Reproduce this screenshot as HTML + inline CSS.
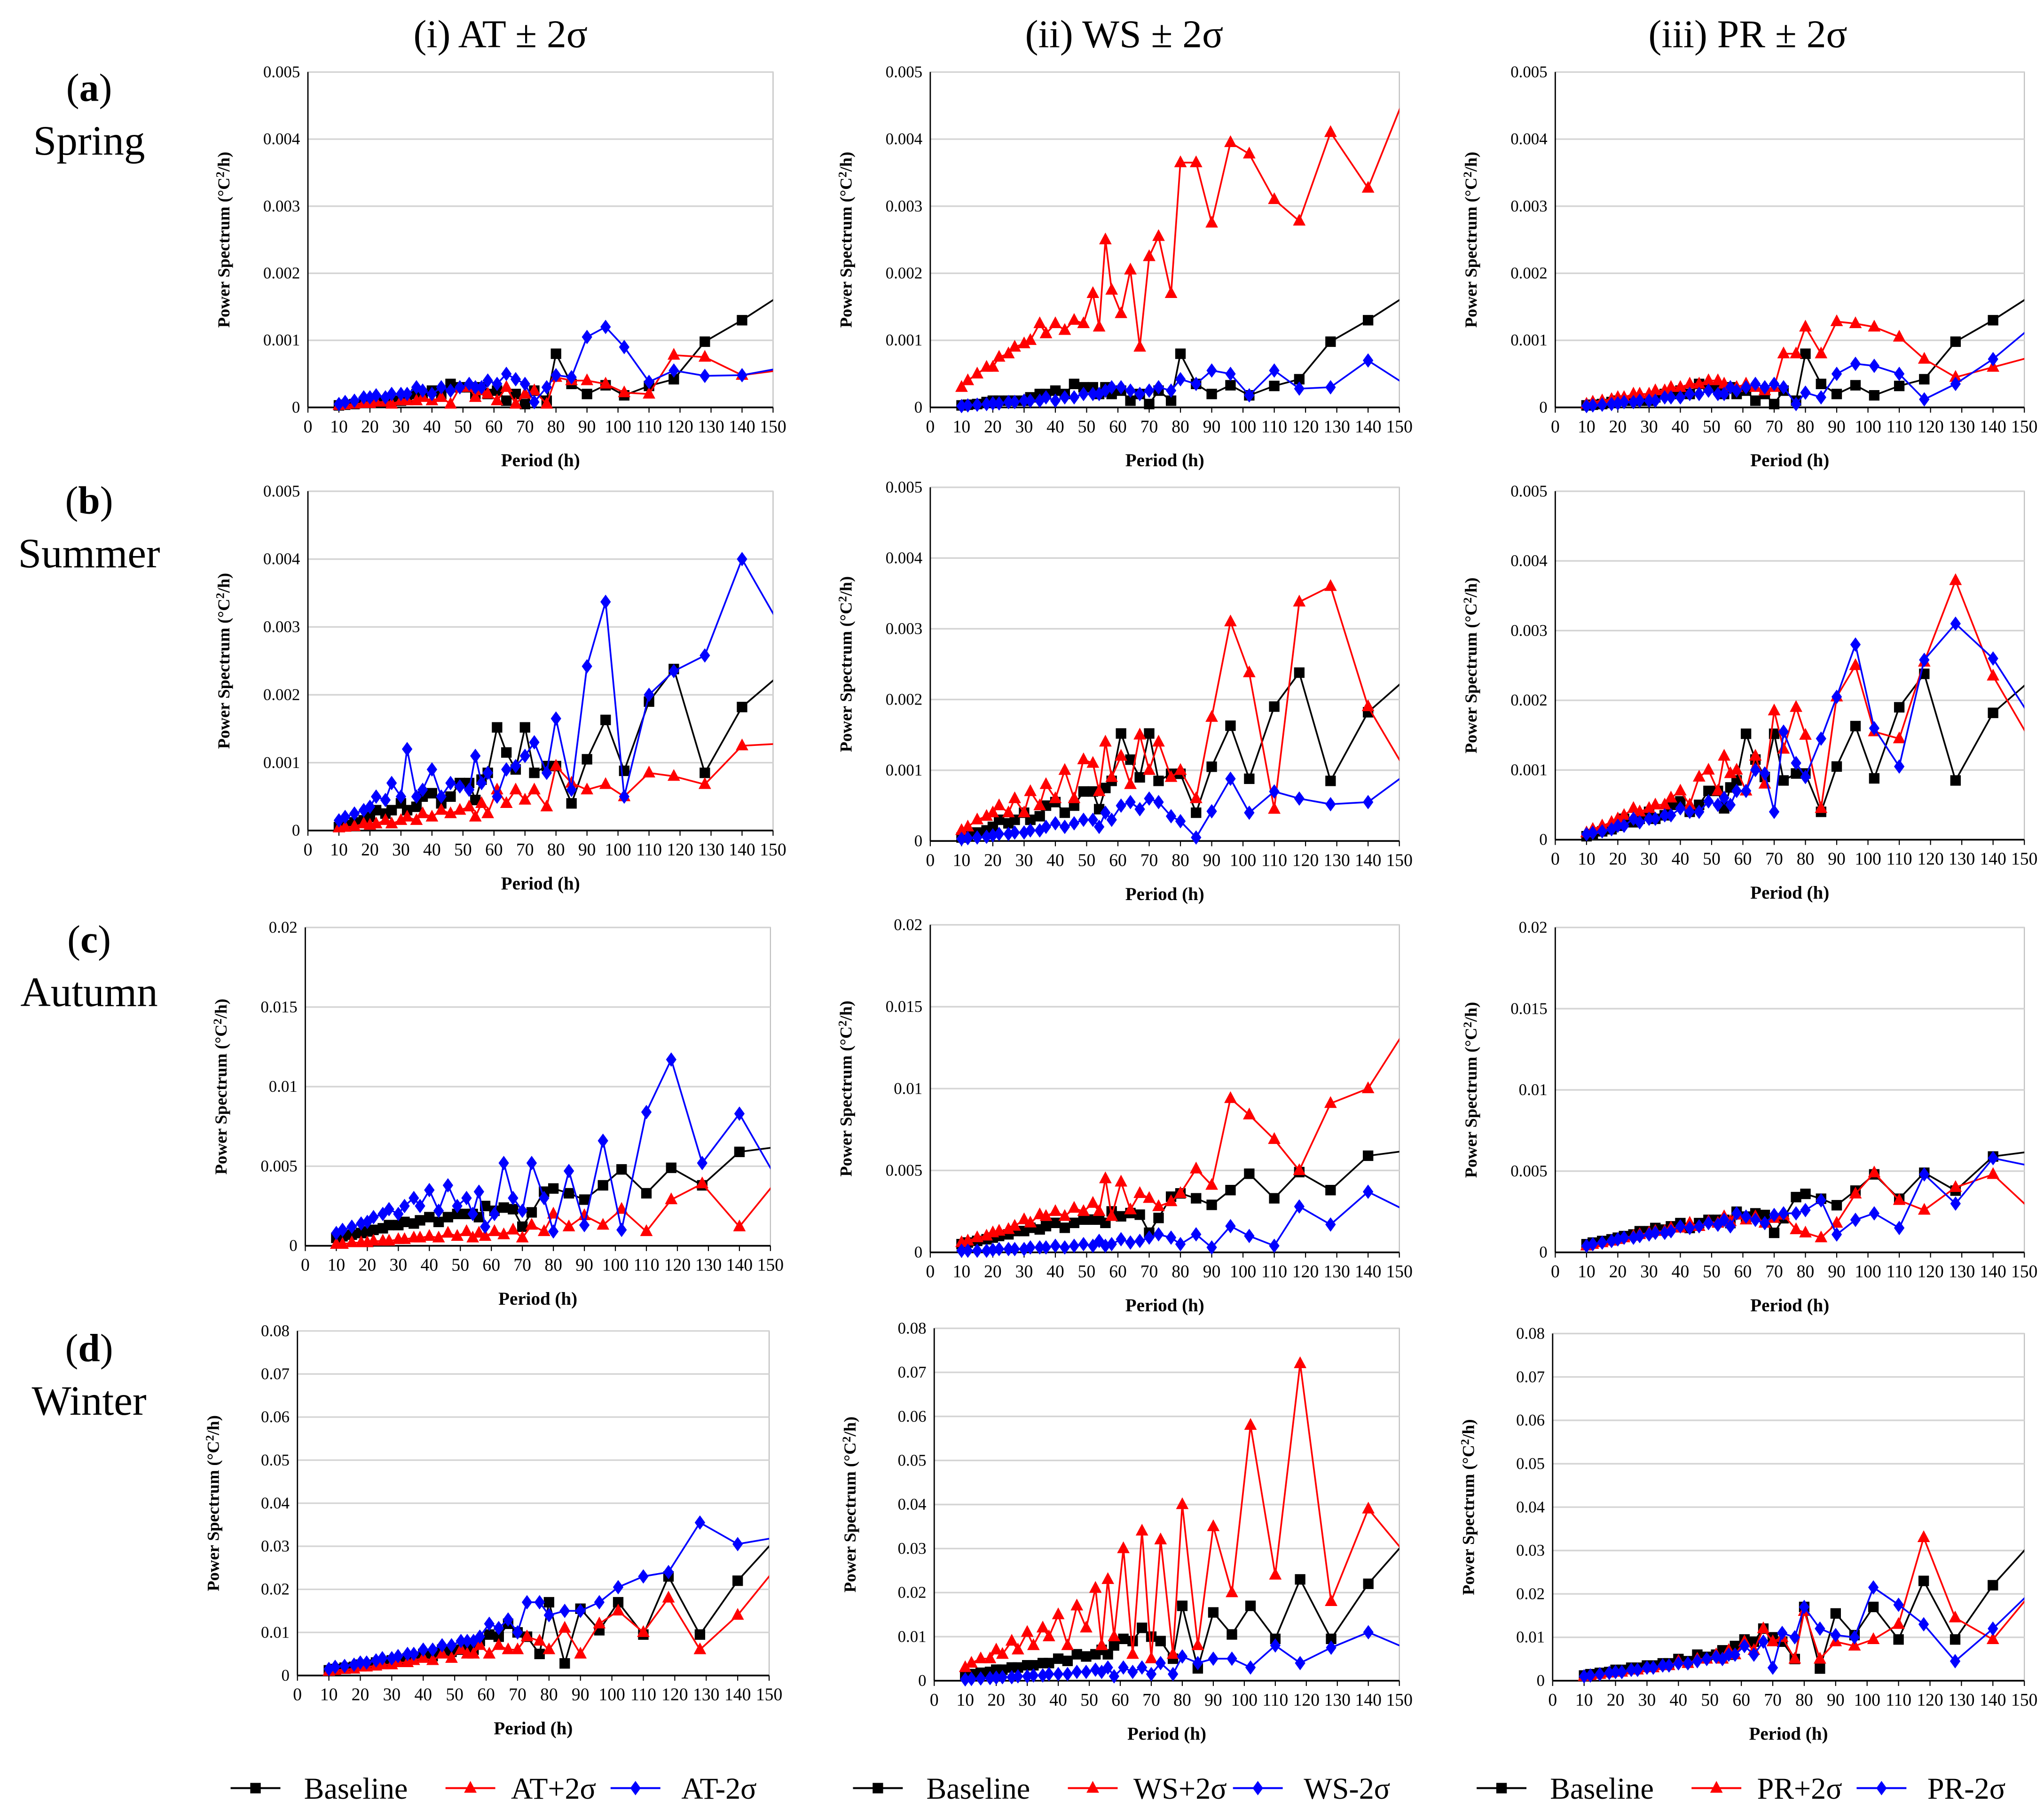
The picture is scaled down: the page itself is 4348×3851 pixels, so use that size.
<!DOCTYPE html>
<html><head><meta charset="utf-8"><style>
html,body{margin:0;padding:0;background:#fff;}
svg{display:block;font-family:"Liberation Serif",serif;}
</style></head><body>
<svg id="fig" xmlns="http://www.w3.org/2000/svg" width="4348" height="3851" viewBox="0 0 1560 1381.7">
<rect x="0" y="0" width="1560" height="1382" fill="#fff"/>
<defs id="defs"></defs>
<text x="382" y="36" font-size="30" text-anchor="middle">(i)   AT ± 2σ</text>
<text x="858" y="36" font-size="30" text-anchor="middle">(ii) WS ± 2σ</text>
<text x="1334" y="36" font-size="30" text-anchor="middle">(iii) PR ± 2σ</text>
<g id="rowlabels"></g>
<g id="panels"></g>
<g id="legend"></g>
</svg>
<script>
// Shared period axis (h)
const periods=[160,140,128,118,110,102,96,90,85,80,77,73,70,67,64,61,58,56,54,52,49,46,43,40,37,35,32,30,27,25,22,20,18,15,12,10];
const xTicks=[0,10,20,30,40,50,60,70,80,90,100,110,120,130,140,150];
// values in units of 1e-3
const baseSpring=[1.9,1.3,0.98,0.42,0.32,0.18,0.33,0.2,0.35,0.8,0.1,0.25,0.05,0.2,0.1,0.25,0.2,0.3,0.2,0.3,0.3,0.35,0.2,0.25,0.2,0.2,0.15,0.1,0.1,0.1,0.1,0.1,0.08,0.05,0.04,0.03];
const atPlusSpring=[0.6,0.48,0.75,0.78,0.2,0.22,0.35,0.4,0.4,0.45,0.05,0.25,0.2,0.05,0.3,0.1,0.2,0.25,0.15,0.3,0.3,0.05,0.15,0.1,0.15,0.1,0.1,0.1,0.05,0.08,0.08,0.06,0.06,0.05,0.04,0.03];
const atMinusSpring=[0.65,0.48,0.47,0.55,0.38,0.9,1.2,1.05,0.45,0.48,0.3,0.08,0.35,0.42,0.5,0.35,0.4,0.3,0.3,0.35,0.3,0.25,0.3,0.2,0.25,0.3,0.2,0.2,0.2,0.15,0.18,0.15,0.15,0.1,0.08,0.05];
const wsPlusSpring=[5.6,3.27,4.1,2.78,3.1,3.78,3.95,2.75,3.65,3.65,1.7,2.55,2.25,0.9,2.05,1.4,1.75,2.5,1.2,1.7,1.25,1.3,1.15,1.25,1.1,1.25,1.0,0.95,0.9,0.8,0.75,0.6,0.6,0.5,0.4,0.3];
const wsMinusSpring=[0.1,0.7,0.3,0.28,0.55,0.18,0.5,0.55,0.35,0.42,0.25,0.3,0.25,0.2,0.25,0.3,0.3,0.25,0.2,0.2,0.2,0.15,0.15,0.1,0.15,0.1,0.1,0.1,0.08,0.08,0.06,0.06,0.05,0.04,0.03,0.02];
const prPlusSpring=[0.85,0.6,0.45,0.72,1.05,1.2,1.25,1.28,0.8,1.2,0.8,0.8,0.3,0.25,0.3,0.35,0.3,0.3,0.35,0.4,0.4,0.35,0.35,0.3,0.3,0.25,0.25,0.2,0.2,0.2,0.15,0.15,0.12,0.1,0.08,0.05];
const prMinusSpring=[1.5,0.72,0.35,0.12,0.5,0.62,0.65,0.5,0.15,0.22,0.05,0.3,0.35,0.3,0.35,0.3,0.25,0.3,0.2,0.2,0.25,0.2,0.2,0.15,0.15,0.15,0.1,0.1,0.1,0.08,0.08,0.06,0.05,0.04,0.03,0.02];

const baseSummer=[2.6,1.82,0.85,2.38,1.9,0.88,1.63,1.05,0.4,0.95,0.95,0.85,1.52,0.9,1.15,1.52,0.85,0.75,0.45,0.7,0.7,0.5,0.4,0.55,0.5,0.35,0.3,0.4,0.3,0.25,0.3,0.2,0.15,0.12,0.08,0.05];
const atPlusSummer=[1.3,1.25,0.68,0.8,0.85,0.5,0.68,0.6,0.7,0.95,0.35,0.6,0.45,0.6,0.4,0.6,0.25,0.4,0.2,0.35,0.3,0.25,0.3,0.2,0.25,0.15,0.2,0.15,0.1,0.15,0.1,0.08,0.1,0.06,0.05,0.04];
const atMinusSummer=[2.4,4.0,2.58,2.35,2.0,0.5,3.37,2.42,0.6,1.65,0.85,1.3,1.1,0.95,0.9,0.5,0.85,0.7,1.1,0.6,0.65,0.7,0.5,0.9,0.6,0.5,1.2,0.5,0.7,0.45,0.5,0.35,0.3,0.25,0.2,0.15];
const wsPlusSummer=[0.4,1.9,3.6,3.38,0.45,2.38,3.1,1.75,0.6,1.0,0.9,1.4,1.0,1.5,0.8,1.2,0.9,1.4,0.7,1.1,1.15,0.6,1.0,0.6,0.8,0.5,0.7,0.4,0.6,0.4,0.5,0.4,0.35,0.3,0.2,0.15];
const wsMinusSummer=[1.2,0.55,0.52,0.6,0.7,0.4,0.88,0.42,0.05,0.28,0.35,0.55,0.6,0.45,0.55,0.5,0.3,0.4,0.2,0.3,0.3,0.25,0.2,0.25,0.2,0.15,0.15,0.12,0.12,0.1,0.1,0.08,0.06,0.05,0.04,0.03];
const prPlusSummer=[0.8,2.35,3.72,2.55,1.45,1.55,2.5,2.05,0.45,1.5,1.9,1.3,1.85,0.8,1.2,0.7,1.0,0.95,1.2,0.7,1.0,0.9,0.5,0.7,0.6,0.5,0.5,0.45,0.4,0.45,0.35,0.3,0.25,0.2,0.15,0.1];
const prMinusSummer=[1.2,2.6,3.1,2.58,1.05,1.6,2.8,2.05,1.45,0.9,1.1,1.55,0.4,0.95,1.0,0.7,0.7,0.5,0.6,0.5,0.55,0.4,0.4,0.45,0.35,0.35,0.3,0.3,0.25,0.3,0.2,0.2,0.15,0.12,0.1,0.08];

const baseAutumn=[6.4,5.9,3.8,4.9,3.3,4.8,3.8,2.9,3.3,3.6,3.4,2.1,1.2,2.3,2.4,2.2,2.5,1.8,2.0,2.0,2.0,1.8,1.5,1.8,1.6,1.4,1.5,1.3,1.3,1.1,1.0,0.9,0.8,0.7,0.6,0.5];
const atPlusAutumn=[6.0,1.2,3.9,2.9,0.9,2.3,1.3,1.9,1.2,2.0,0.9,1.3,0.5,1.0,0.7,0.9,0.6,0.8,0.5,0.9,0.6,0.8,0.5,0.6,0.5,0.5,0.4,0.4,0.3,0.3,0.3,0.2,0.2,0.2,0.1,0.1];
const atMinusAutumn=[1.5,8.3,5.2,11.7,8.4,1.0,6.6,1.3,4.7,0.9,3.0,5.2,2.2,3.0,5.2,2.0,1.2,3.4,2.0,3.0,2.5,3.8,2.2,3.5,2.5,3.0,2.5,2.0,2.3,2.0,1.8,1.5,1.4,1.2,1.0,0.8];
const wsPlusAutumn=[16,10,9.1,5.0,6.9,8.4,9.4,4.1,5.1,3.6,3.1,2.8,3.3,3.6,2.6,4.3,2.2,4.5,2.5,3.0,2.5,2.7,2.2,2.5,2.2,2.3,1.8,2.0,1.6,1.4,1.3,1.2,1.0,0.9,0.7,0.6];
const wsMinusAutumn=[1.8,3.7,1.7,2.8,0.4,1.0,1.6,0.3,1.1,0.5,0.9,1.1,0.9,0.7,0.6,0.8,0.5,0.4,0.7,0.4,0.5,0.4,0.3,0.4,0.3,0.3,0.3,0.2,0.2,0.2,0.2,0.15,0.1,0.1,0.1,0.1];
const prPlusAutumn=[1.2,4.8,4.0,2.6,3.2,4.9,3.6,1.8,0.9,1.2,1.4,2.3,2.1,1.8,2.2,2.0,2.3,1.9,2.2,1.8,1.9,1.6,1.8,1.5,1.5,1.3,1.3,1.2,1.1,1.0,0.9,0.8,0.7,0.6,0.5,0.4];
const prMinusAutumn=[5.0,5.8,3.0,4.8,1.5,2.4,2.0,1.1,3.2,2.6,2.4,2.4,2.3,1.8,2.0,2.2,2.4,1.6,2.0,1.7,1.8,1.6,1.5,1.6,1.3,1.2,1.2,1.1,1.0,0.9,0.9,0.8,0.7,0.6,0.5,0.4];

const baseWinter=[38,22,9.5,23,9.5,17,10.5,15.5,2.8,17,5,9,10,12,9,9.5,8,6,7,6,5.5,6,4.5,5,4,4,3.5,3.5,3,3,2.5,2.5,2,1.8,1.5,1.2];
const atPlusWinter=[32,14,6,18,10,15,12,5,11,6,8,9,6,6,7,5,7,5,5,6,4,5,3.5,4,3.5,3,3,2.5,2.5,2.2,2,2,1.5,1.4,1.2,1];
const atMinusWinter=[33,30.5,35.5,24,23,20.5,17,15,15,14,17,17,10,13,11,12,9,8,8,8,7,7,6,6,5,5,4.5,4,4,3.5,3,3,2.5,2.2,2,1.5];
const wsPlusWinter=[22,39,18,72,24,58,20,35,8,40,6,32,5,34,6,30,10,23,8,21,12,17,8,15,10,12,8,11,7,9,6,7,5,5,4,3];
const wsMinusWinter=[5,11,7.5,4,8,3,5,5,4,5.5,1.5,4,1.5,3,2,3,1,3,2,2.5,2,2,1.5,1.5,1.5,1.2,1.2,1,1,0.8,0.8,0.7,0.6,0.5,0.4,0.3];
const prPlusWinter=[27,9.5,14.5,33,13,9.5,8,9,5,16,5,10,9,12,7,9,6,7,5,6,5,5,4,4.5,3.5,3.5,3,3,2.5,2.5,2,2,1.8,1.5,1.2,1];
const prMinusWinter=[26,12,4.5,13,17.5,21.5,10,10.5,12,17,10,11,3,9,6,8,6,6,5,5.5,5,4.5,4,4,3.5,3.5,3,3,2.5,2.5,2,2,1.8,1.5,1.2,1];

const yTicksAB=["0","0.001","0.002","0.003","0.004","0.005"];
const yTicksC=["0","0.005","0.01","0.015","0.02"];
const yTicksD=["0","0.01","0.02","0.03","0.04","0.05","0.06","0.07","0.08"];

const NS="http://www.w3.org/2000/svg";
function mk(tag,attrs,parent){const e=document.createElementNS(NS,tag);for(const k in attrs)e.setAttribute(k,attrs[k]);if(parent)parent.appendChild(e);return e;}

const rows=[
 {label:"a",season:"Spring",ly:68,ticks:yTicksAB,step:1,max:5,series:[[atPlusSpring,atMinusSpring],[wsPlusSpring,wsMinusSpring],[prPlusSpring,prMinusSpring]],base:baseSpring,
  geom:[[235,590,55,311],[710,1068,55,311],[1187,1545,55,311]]},
 {label:"b",season:"Summer",ly:383,ticks:yTicksAB,step:1,max:5,series:[[atPlusSummer,atMinusSummer],[wsPlusSummer,wsMinusSummer],[prPlusSummer,prMinusSummer]],base:baseSummer,
  geom:[[235,590,375,634],[710,1068,372,642],[1187,1545,375,641]]},
 {label:"c",season:"Autumn",ly:718,ticks:yTicksC,step:5,max:20,series:[[atPlusAutumn,atMinusAutumn],[wsPlusAutumn,wsMinusAutumn],[prPlusAutumn,prMinusAutumn]],base:baseAutumn,
  geom:[[233,588,708,951],[710,1068,706,956],[1187,1545,708,956]]},
 {label:"d",season:"Winter",ly:1030,ticks:yTicksD,step:10,max:80,series:[[atPlusWinter,atMinusWinter],[wsPlusWinter,wsMinusWinter],[prPlusWinter,prMinusWinter]],base:baseWinter,
  geom:[[227,587,1016,1279],[713,1068,1014,1283],[1185,1545,1018,1283]]}
];
const colNames=["at","ws","pr"];
const defs=document.getElementById('defs');
const panelsG=document.getElementById('panels');
const rowG=document.getElementById('rowlabels');

function marker(g,type,x,y,color){
 let m;
 if(type==='sq') m=mk('rect',{x:x-4,y:y-4,width:8,height:8,fill:color},g);
 else if(type==='tri') m=mk('path',{d:`M${x},${y-5.5}L${x+4.8},${y+3.5}L${x-4.8},${y+3.5}Z`,fill:color},g);
 else m=mk('path',{d:`M${x},${y-5.5}L${x+4},${y}L${x},${y+5.5}L${x-4},${y}Z`,fill:color},g);
 return m;
}

rows.forEach((r,ri)=>{
 const t1=mk('text',{x:68,y:r.ly+9,'font-size':30,'text-anchor':'middle'},rowG);
 
 
 t1.innerHTML='(<tspan font-weight="bold">'+r.label+'</tspan>)';
 const t2=mk('text',{x:68,y:r.ly+50,'font-size':32,'text-anchor':'middle'},rowG);
 
 
 t2.textContent=r.season;
 r.geom.forEach((gm,ci)=>{
  const [x0,x1,yT,yB]=gm;
  const X=v=>x0+(v/150)*(x1-x0);
  const Y=v=>yB-(v/r.max)*(yB-yT);
  const pg=mk('g',{},panelsG);
  
  
  const cid='clip'+ri+ci;
  const cp=mk('clipPath',{id:cid},defs);
  mk('rect',{x:x0-6,y:yT-6,width:x1-x0+6,height:yB-yT+12},cp);
  mk('rect',{x:x0,y:yT,width:x1-x0,height:yB-yT,fill:'none',stroke:'#bdbdbd','stroke-width':0.8},pg);
  r.ticks.forEach((lab,i)=>{
   const v=i*r.step, y=Y(v);
   if(i>0){const gl=mk('line',{x1:x0,x2:x1,y1:y,y2:y,stroke:'#d4d4d4','stroke-width':1.2},pg);
    }
   const tl=mk('text',{x:x0-6,y:y+4,'font-size':12.5,'text-anchor':'end'},pg);
   
   tl.textContent=lab;
  });
  xTicks.forEach(v=>{
   const x=X(v);
   mk('line',{x1:x,x2:x,y1:yB,y2:yB+4,stroke:'#000','stroke-width':0.8},pg);
   const tl=mk('text',{x:x,y:yB+19,'font-size':13.5,'text-anchor':'middle'},pg);
   
   tl.textContent=v;
  });
  const ax=mk('line',{x1:x0,x2:x1,y1:yB,y2:yB,stroke:'#000','stroke-width':1.3},pg);
  
  const ay=mk('line',{x1:x0,x2:x0,y1:yT,y2:yB,stroke:'#000','stroke-width':1},pg);
  
  const xt=mk('text',{x:(x0+x1)/2,y:yB+45,'font-size':14,'font-weight':'bold','text-anchor':'middle'},pg);
  
  xt.textContent='Period (h)';
  const yc=(yT+yB)/2, yx=x0-60;
  const yt=mk('text',{x:yx,y:yc,'font-size':13,'font-weight':'bold','text-anchor':'middle',transform:`rotate(-90 ${yx} ${yc})`},pg);
  
  yt.innerHTML='Power Spectrum (°C<tspan dy="-4" font-size="9">2</tspan><tspan dy="4">/h)</tspan>';
  const list=[[r.base,'#000','sq','baseline'],[r.series[ci][0],'#ff0000','tri',colNames[ci]+'-plus-2sigma'],[r.series[ci][1],'#0000ff','dia',colNames[ci]+'-minus-2sigma']];
  [0,1,2].forEach(k=>{
   const [vals,col,mt,nm]=list[k];
   const sg=mk('g',{'clip-path':`url(#${cid})`},pg);
   
   
   const pts=periods.map((p,i)=>X(p).toFixed(1)+','+Y(vals[i]).toFixed(1)).join(' ');
   mk('polyline',{points:pts,fill:'none',stroke:col,'stroke-width':1.3},sg);
   periods.forEach((p,i)=>{ if(p<=150){ const m=marker(sg,mt,X(p),Y(vals[i]),col);
      }});
  });
 });
});

// legend
const lg=document.getElementById('legend');
const legendNames=[["Baseline","AT+2σ","AT-2σ"],["Baseline","WS+2σ","WS-2σ"],["Baseline","PR+2σ","PR-2σ"]];
const legOff=[0,475,951];
legendNames.forEach((names,ci)=>{
 const o=legOff[ci], y=1365;
 const ents=[[176,232,'#000','sq'],[340,390,'#ff0000','tri'],[466,520,'#0000ff','dia']];
 ents.forEach((e,k)=>{
  const g=mk('g',{},lg);
  
  
  mk('line',{x1:o+e[0],x2:o+e[0]+38,y1:y,y2:y,stroke:e[2],'stroke-width':1.5},g);
  marker(g,e[3],o+e[0]+19,y,e[2]);
  const t=mk('text',{x:o+e[1],y:y+8,'font-size':23},g);
  t.textContent=names[k];
 });
});
</script>
</body></html>
